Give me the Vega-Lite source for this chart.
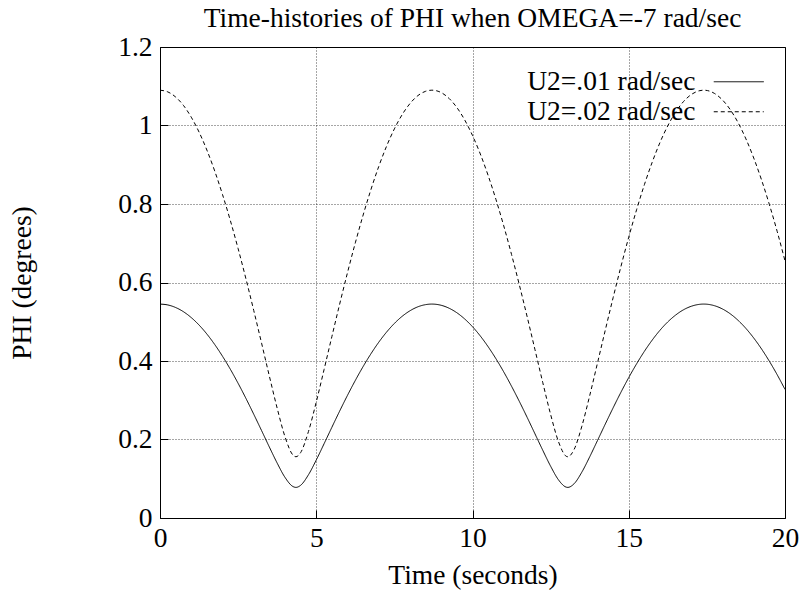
{
  "$schema": "https://vega.github.io/schema/vega-lite/v6.json",
  "width": 625,
  "height": 471,
  "autosize": {"type": "none"},
  "padding": {"left": 160, "top": 47, "right": 19, "bottom": 79},
  "background": "white",
  "title": {
    "text": "Time-histories of PHI when OMEGA=-7 rad/sec",
    "font": "Liberation Serif",
    "fontSize": 27.5,
    "fontWeight": "normal",
    "color": "black",
    "offset": 1
  },
  "config": {
    "view": {"stroke": "black", "strokeWidth": 1},
    "axis": {
      "labelFont": "Liberation Serif",
      "labelFontSize": 27.5,
      "labelColor": "black",
      "labelFlush": false,
      "titleFont": "Liberation Serif",
      "titleFontSize": 27.5,
      "titleFontWeight": "normal",
      "titleColor": "black",
      "domain": false,
      "ticks": true,
      "tickSize": -8,
      "tickColor": "black",
      "tickWidth": 1,
      "grid": true,
      "gridColor": "black",
      "gridDash": [1, 2],
      "gridWidth": 1,
      "gridOpacity": 0.7
    }
  },
  "data": {
    "values": [
      {"t": 0, "a": 0.545, "b": 1.09},
      {"t": 0.25, "a": 0.5428, "b": 1.0856},
      {"t": 0.5, "a": 0.5363, "b": 1.0726},
      {"t": 0.75, "a": 0.5256, "b": 1.0512},
      {"t": 1, "a": 0.5106, "b": 1.0212},
      {"t": 1.25, "a": 0.4916, "b": 0.9832},
      {"t": 1.5, "a": 0.4687, "b": 0.9374},
      {"t": 1.75, "a": 0.4421, "b": 0.8842},
      {"t": 2, "a": 0.4121, "b": 0.8242},
      {"t": 2.25, "a": 0.3791, "b": 0.7582},
      {"t": 2.5, "a": 0.3431, "b": 0.6862},
      {"t": 2.75, "a": 0.3047, "b": 0.6094},
      {"t": 3, "a": 0.2643, "b": 0.5286},
      {"t": 3.25, "a": 0.2228, "b": 0.4456},
      {"t": 3.5, "a": 0.1807, "b": 0.3614},
      {"t": 3.75, "a": 0.1398, "b": 0.2796},
      {"t": 4, "a": 0.1035, "b": 0.207},
      {"t": 4.25, "a": 0.0804, "b": 0.1608},
      {"t": 4.35, "a": 0.078, "b": 0.156},
      {"t": 4.5, "a": 0.0833, "b": 0.1666},
      {"t": 4.75, "a": 0.1101, "b": 0.2202},
      {"t": 5, "a": 0.1477, "b": 0.2954},
      {"t": 5.25, "a": 0.1891, "b": 0.3782},
      {"t": 5.5, "a": 0.2311, "b": 0.4622},
      {"t": 5.75, "a": 0.2726, "b": 0.5452},
      {"t": 6, "a": 0.3126, "b": 0.6252},
      {"t": 6.25, "a": 0.3505, "b": 0.701},
      {"t": 6.5, "a": 0.3859, "b": 0.7718},
      {"t": 6.75, "a": 0.4184, "b": 0.8368},
      {"t": 7, "a": 0.4478, "b": 0.8956},
      {"t": 7.25, "a": 0.4736, "b": 0.9472},
      {"t": 7.5, "a": 0.4957, "b": 0.9914},
      {"t": 7.75, "a": 0.5139, "b": 1.0278},
      {"t": 8, "a": 0.528, "b": 1.056},
      {"t": 8.25, "a": 0.538, "b": 1.076},
      {"t": 8.5, "a": 0.5436, "b": 1.0872},
      {"t": 8.7, "a": 0.545, "b": 1.09},
      {"t": 9, "a": 0.5419, "b": 1.0838},
      {"t": 9.25, "a": 0.5345, "b": 1.069},
      {"t": 9.5, "a": 0.5229, "b": 1.0458},
      {"t": 9.75, "a": 0.5071, "b": 1.0142},
      {"t": 10, "a": 0.4873, "b": 0.9746},
      {"t": 10.25, "a": 0.4637, "b": 0.9274},
      {"t": 10.5, "a": 0.4364, "b": 0.8728},
      {"t": 10.75, "a": 0.4058, "b": 0.8116},
      {"t": 11, "a": 0.3721, "b": 0.7442},
      {"t": 11.25, "a": 0.3356, "b": 0.6712},
      {"t": 11.5, "a": 0.2968, "b": 0.5936},
      {"t": 11.75, "a": 0.2562, "b": 0.5124},
      {"t": 12, "a": 0.2143, "b": 0.4286},
      {"t": 12.25, "a": 0.1723, "b": 0.3446},
      {"t": 12.5, "a": 0.1319, "b": 0.2638},
      {"t": 12.75, "a": 0.0974, "b": 0.1948},
      {"t": 13, "a": 0.0786, "b": 0.1572},
      {"t": 13.05, "a": 0.078, "b": 0.156},
      {"t": 13.25, "a": 0.0872, "b": 0.1744},
      {"t": 13.5, "a": 0.117, "b": 0.234},
      {"t": 13.75, "a": 0.1558, "b": 0.3116},
      {"t": 14, "a": 0.1975, "b": 0.395},
      {"t": 14.25, "a": 0.2395, "b": 0.479},
      {"t": 14.5, "a": 0.2807, "b": 0.5614},
      {"t": 14.75, "a": 0.3204, "b": 0.6408},
      {"t": 15, "a": 0.3578, "b": 0.7156},
      {"t": 15.25, "a": 0.3926, "b": 0.7852},
      {"t": 15.5, "a": 0.4246, "b": 0.8492},
      {"t": 15.75, "a": 0.4532, "b": 0.9064},
      {"t": 16, "a": 0.4784, "b": 0.9568},
      {"t": 16.25, "a": 0.4997, "b": 0.9994},
      {"t": 16.5, "a": 0.517, "b": 1.034},
      {"t": 16.75, "a": 0.5304, "b": 1.0608},
      {"t": 17, "a": 0.5394, "b": 1.0788},
      {"t": 17.25, "a": 0.5442, "b": 1.0884},
      {"t": 17.4, "a": 0.545, "b": 1.09},
      {"t": 17.75, "a": 0.5407, "b": 1.0814},
      {"t": 18, "a": 0.5325, "b": 1.065},
      {"t": 18.25, "a": 0.5201, "b": 1.0402},
      {"t": 18.5, "a": 0.5035, "b": 1.007},
      {"t": 18.75, "a": 0.4829, "b": 0.9658},
      {"t": 19, "a": 0.4585, "b": 0.917},
      {"t": 19.25, "a": 0.4306, "b": 0.8612},
      {"t": 19.5, "a": 0.3993, "b": 0.7986},
      {"t": 19.75, "a": 0.365, "b": 0.73},
      {"t": 20, "a": 0.3276, "b": 0.6552}
    ]
  },
  "transform": [{"fold": ["a", "b"], "as": ["series", "phi"]}],
  "mark": {"type": "line", "interpolate": "monotone", "color": "black", "strokeWidth": 1},
  "encoding": {
    "x": {
      "field": "t",
      "type": "quantitative",
      "scale": {"domain": [0, 20], "nice": false},
      "axis": {
        "values": [0, 5, 10, 15, 20],
        "title": "Time (seconds)",
        "labelPadding": 14,
        "titleBaseline": "alphabetic",
        "titleY": 65
      }
    },
    "y": {
      "field": "phi",
      "type": "quantitative",
      "scale": {"domain": [0, 1.2], "nice": false},
      "axis": {
        "values": [0, 0.2, 0.4, 0.6, 0.8, 1, 1.2],
        "format": "~g",
        "title": "PHI (degrees)",
        "labelPadding": 16,
        "titleBaseline": "alphabetic",
        "titleX": -130
      }
    },
    "strokeDash": {
      "field": "series",
      "type": "nominal",
      "scale": {"domain": ["a", "b"], "range": [[1, 0], [4, 3]]},
      "legend": {
        "title": null,
        "orient": "none",
        "legendX": 565,
        "legendY": 21,
        "padding": 0,
        "symbolType": "M-2.5,0H2.5",
        "symbolSize": 400,
        "symbolStrokeColor": "black",
        "symbolStrokeWidth": 1,
        "labelFont": "Liberation Serif",
        "labelFontSize": 27.5,
        "labelColor": "black",
        "labelAlign": "right",
        "labelBaseline": "middle",
        "labelOffset": -57,
        "labelLimit": 400,
        "rowPadding": 1,
        "labelExpr": "datum.label == 'a' ? 'U2=.01 rad/sec' : 'U2=.02 rad/sec'"
      }
    }
  }
}
